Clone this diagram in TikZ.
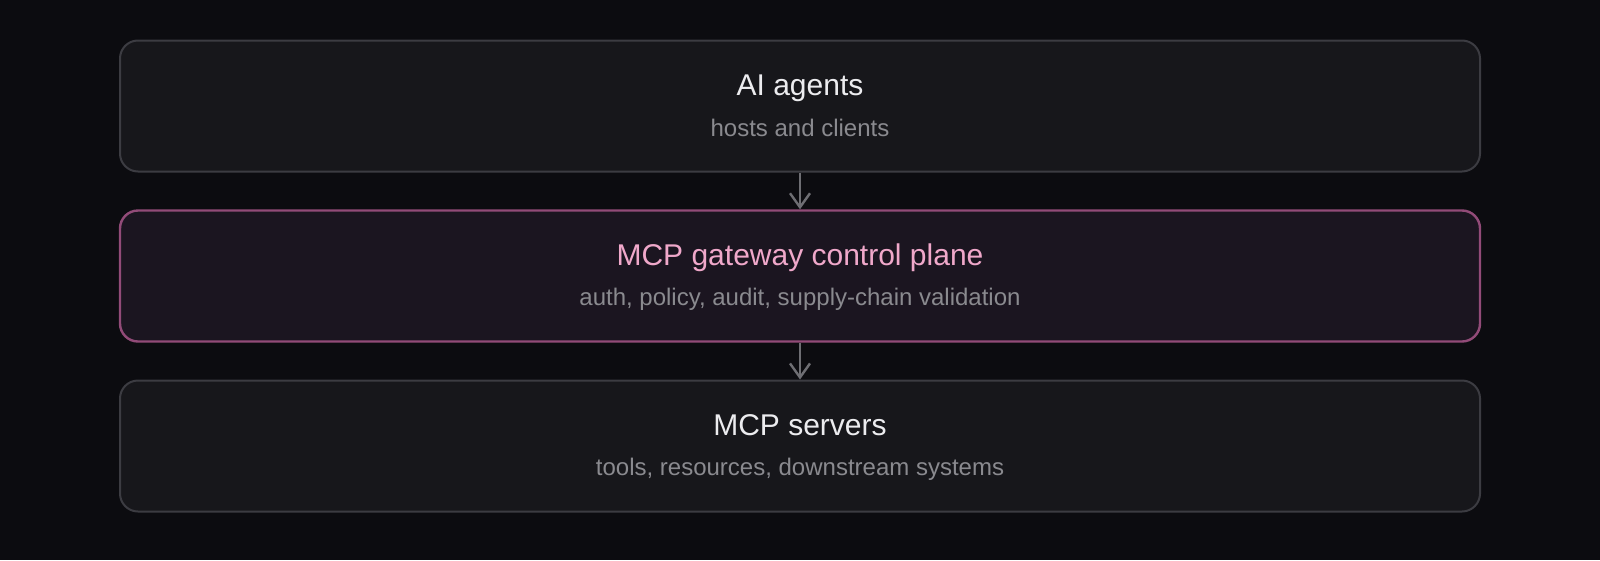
\documentclass[tikz,border=0pt]{standalone}
\usepackage{fontspec}
\setmainfont{Liberation Sans}
\usetikzlibrary{arrows.meta,calc}
\definecolor{bgc}{HTML}{0C0C10}
\definecolor{boxfill}{HTML}{17171B}
\definecolor{boxline}{HTML}{3C3C42}
\definecolor{gwfill}{HTML}{1B1520}
\definecolor{gwline}{HTML}{924B78}
\definecolor{titlec}{HTML}{ECECEF}
\definecolor{pinkc}{HTML}{F0A8CA}
\definecolor{subc}{HTML}{8A8A8F}
\definecolor{arrowc}{HTML}{6E6E73}
\tikzset{
  layer/.style={draw=boxline, fill=boxfill, line width=2pt, rounded corners=18pt,
    minimum width=1360pt, minimum height=131pt, inner sep=0pt},
  gwlayer/.style={layer, draw=gwline, fill=gwfill, line width=2.4pt},
  ttl/.style={anchor=base, text=titlec, font=\fontsize{30pt}{36pt}\selectfont, inner sep=0pt},
  sub/.style={anchor=base, text=subc, font=\fontsize{24pt}{29pt}\selectfont, inner sep=0pt},
  flow/.style={draw=arrowc, line width=2.4pt, -{Straight Barb[length=14pt,width=20pt,line width=2.4pt]}}
}
\begin{document}
\begin{tikzpicture}[x=1pt,y=-1pt]
\fill[bgc] (0,0) rectangle (1600,560);
\useasboundingbox (0,0) rectangle (1600,560);
\node[layer] (agents) at (800,106) {};
\node[gwlayer] (gw) at (800,276) {};
\node[layer] (servers) at (800,446) {};
\node[ttl] (agentsT) at ($(agents.north)+(0,56)$) {AI agents};
\node[sub] (agentsS) at ($(agents.north)+(0,97)$) {hosts and clients};
\node[ttl, text=pinkc] (gwT) at ($(gw.north)+(0,56)$) {MCP gateway control plane};
\node[sub] (gwS) at ($(gw.north)+(0,96)$) {auth, policy, audit, supply-chain validation};
\node[ttl] (serversT) at ($(servers.north)+(0,56)$) {MCP servers};
\node[sub] (serversS) at ($(servers.north)+(0,96)$) {tools, resources, downstream systems};
\draw[flow] (agents.south) -- (gw.north);
\draw[flow] (gw.south) -- (servers.north);
\end{tikzpicture}
\end{document}
